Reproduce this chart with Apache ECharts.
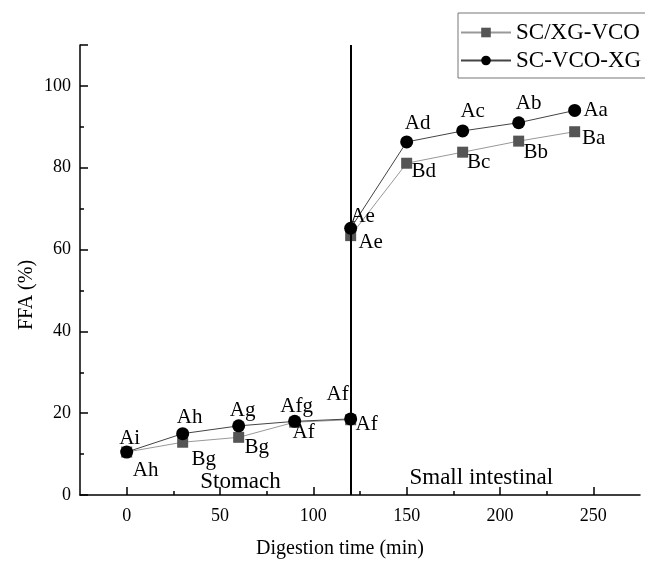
<!DOCTYPE html>
<html>
<head>
<meta charset="utf-8">
<script src="https://cdn.jsdelivr.net/npm/echarts@6/dist/echarts.min.js"></script>
<style>
html, body { margin: 0; padding: 0; background: #fff; }
#main { width: 645px; height: 561px; }
</style>
</head>
<body>
<div id="main"></div>
<script>
var times = [0, 30, 60, 90, 120, 120, 150, 180, 210, 240];
var seriesNames = ['SC/XG-VCO', 'SC-VCO-XG'];
var xgVco = [10.5, 12.9, 14.1, 17.8, 18.4, 63.4, 81.1, 83.8, 86.5, 88.8];
var vcoXg = [10.5, 15.0, 16.9, 18.0, 18.6, 65.2, 86.3, 89.0, 91.0, 94.0];
var xgVcoLetters = ['Ah', 'Bg', 'Bg', 'Af', 'Af', 'Ae', 'Bd', 'Bc', 'Bb', 'Ba'];
var vcoXgLetters = ['Ai', 'Ah', 'Ag', 'Afg', 'Af', 'Ae', 'Ad', 'Ac', 'Ab', 'Aa'];
var majorTicks = [0, 50, 100, 150, 200, 250];
var minorTicks = [25, 75, 125, 175, 225];
var phaseNames = ['Stomach', 'Small intestinal'];
var phaseX = [61, 190];
var phaseY = [3.2, 4.2];
var phaseBoundary = 120;

// label offsets (px) from the point centre
var xgVcoOffsets = [[19, 18], [21, 17], [18, 10], [9, 10], [16, 5], [20, 7], [17, 8], [16, 10], [17, 11], [19, 7]];
var vcoXgOffsets = [[3, -14], [7, -16], [4, -15], [2, -15], [-13, -24], [12, -12], [11, -18], [10, -19], [10, -19], [21, 0]];

var serif = 'Liberation Serif';

function buildData(values, letters, offsets) {
    return values.map(function(v, i) {
        return {
            value: [times[i], v],
            label: {
                show: true,
                formatter: letters[i],
                position: 'inside',
                offset: offsets[i]
            }
        };
    });
}

var chart = echarts.init(document.getElementById('main'));

var lineBlack = { color: '#000', width: 1.5 };

var labelStyle = {
    color: '#000',
    fontFamily: serif,
    fontSize: 21,
    align: 'center',
    verticalAlign: 'middle'
};

var option = {
    backgroundColor: '#fff',
    animation: false,
    grid: { left: 80, top: 45, width: 560, height: 450, outerBoundsMode: 'none' },
    legend: {
        left: 458,
        top: 13,
        orient: 'vertical',
        itemWidth: 50,
        itemHeight: 12,
        itemGap: 5,
        padding: [8, 12, 6, 2],
        borderColor: '#777',
        borderWidth: 1,
        textStyle: { color: '#000', fontFamily: serif, fontSize: 23 },
        data: seriesNames
    },
    xAxis: [{
        type: 'value',
        min: -25,
        max: 275,
        name: 'Digestion time (min)',
        nameLocation: 'middle',
        nameGap: 44,
        nameMoveOverlap: false,
        nameTextStyle: { color: '#000', fontFamily: serif, fontSize: 20, padding: [0, 40, 0, 0] },
        axisLine: { show: true, onZero: false, lineStyle: lineBlack },
        axisTick: { show: true, inside: true, length: 8, lineStyle: lineBlack, customValues: majorTicks },
        axisLabel: { color: '#000', fontFamily: serif, fontSize: 18, margin: 12, customValues: majorTicks },
        splitLine: { show: false }
    }, {
        type: 'value',
        min: -25,
        max: 275,
        position: 'bottom',
        axisLine: { show: false, onZero: false },
        axisTick: { show: true, inside: true, length: 4, lineStyle: lineBlack, customValues: minorTicks },
        axisLabel: { show: false },
        splitLine: { show: false }
    }],
    yAxis: {
        type: 'value',
        min: 0,
        max: 110,
        interval: 20,
        name: 'FFA (%)',
        nameLocation: 'middle',
        nameGap: 43,
        nameMoveOverlap: false,
        nameTextStyle: { color: '#000', fontFamily: serif, fontSize: 20, padding: [0, 50, 0, 0] },
        axisLine: { show: true, onZero: false, lineStyle: lineBlack },
        axisTick: { show: true, inside: true, length: 8, lineStyle: lineBlack },
        minorTick: { show: true, splitNumber: 2, length: 4, lineStyle: lineBlack },
        axisLabel: { color: '#000', fontFamily: serif, fontSize: 18, margin: 9, showMaxLabel: false },
        splitLine: { show: false }
    },
    series: [{
        name: seriesNames[0],
        type: 'line',
        symbol: 'rect',
        symbolSize: 11,
        z: 3,
        lineStyle: { color: '#999', width: 1 },
        itemStyle: { color: '#555' },
        label: labelStyle,
        data: buildData(xgVco, xgVcoLetters, xgVcoOffsets),
        markLine: {
            silent: true,
            symbol: ['none', 'none'],
            label: { show: false },
            lineStyle: { color: '#000', type: 'solid', width: 2 },
            data: [{ xAxis: phaseBoundary }]
        },
        markPoint: {
            symbol: 'circle',
            symbolSize: 0,
            label: {
                show: true,
                formatter: '{b}',
                color: '#000',
                fontFamily: serif,
                fontSize: 23,
                position: 'inside',
                align: 'center',
                verticalAlign: 'middle'
            },
            data: phaseNames.map(function(n, i) {
                return { name: n, coord: [phaseX[i], phaseY[i]] };
            })
        }
    }, {
        name: seriesNames[1],
        type: 'line',
        symbol: 'circle',
        symbolSize: 13,
        z: 4,
        lineStyle: { color: '#444', width: 1 },
        itemStyle: { color: '#000' },
        label: labelStyle,
        data: buildData(vcoXg, vcoXgLetters, vcoXgOffsets)
    }]
};

chart.setOption(option);
</script>
</body>
</html>
